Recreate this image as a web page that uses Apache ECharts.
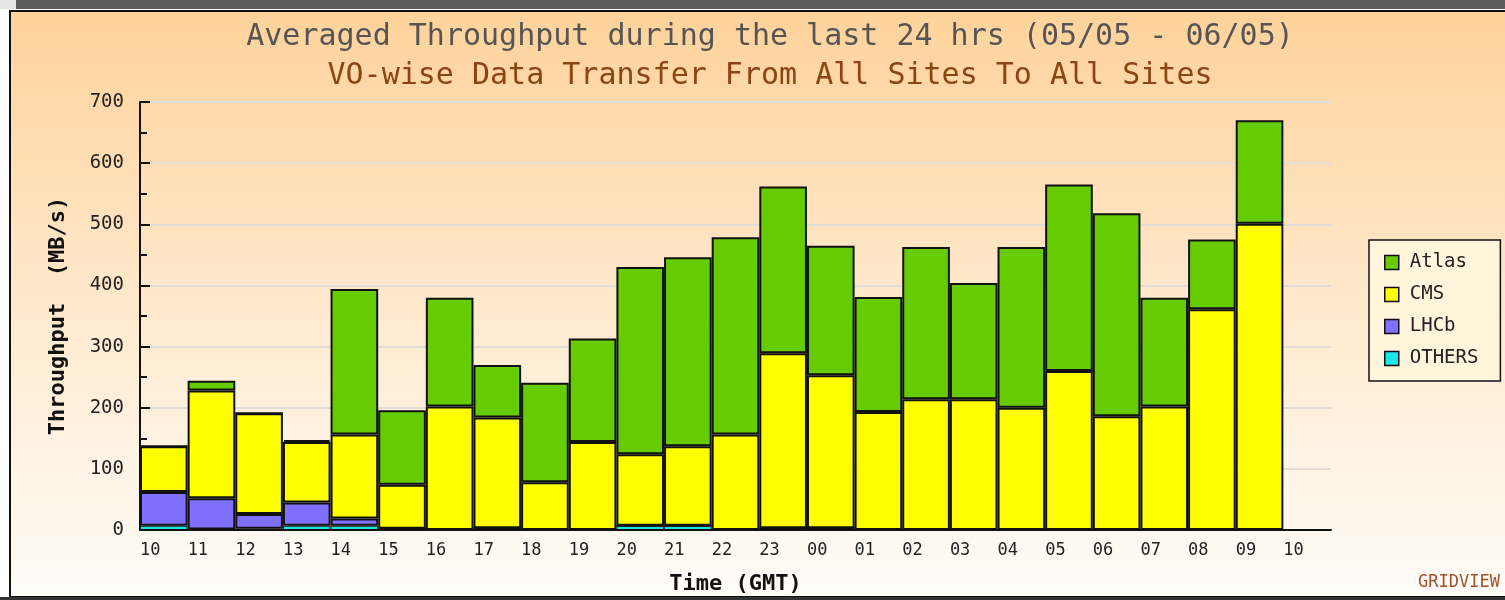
<!DOCTYPE html>
<html>
<head>
<meta charset="utf-8">
<script src="https://cdn.jsdelivr.net/npm/echarts@6/dist/echarts.min.js"></script>
<style>
html,body{margin:0;padding:0;background:#fff;}
#chart{width:1505px;height:600px;}
</style>
</head>
<body>
<div id="chart"></div>
<script>
// Hour tick labels (25 boundaries) and the 24 hourly bins
const hourLabels = ['10','11','12','13','14','15','16','17','18','19','20','21','22','23','00','01','02','03','04','05','06','07','08','09','10'];

// Throughput (MB/s) per VO, one value per hourly bin
const others = [7, 1, 2, 7, 7, 2, 0, 3, 0, 0, 7, 7, 0, 3, 3, 0, 0, 0, 0, 0, 0, 0, 0, 0];
const lhcb   = [55, 51, 24, 38, 12, 0, 0, 0, 0, 0, 0, 0, 0, 0, 0, 0, 0, 0, 0, 0, 0, 0, 0, 0];
const cms    = [75, 176, 165, 99, 137, 72, 202, 181, 78, 144, 117, 130, 156, 286, 250, 193, 214, 214, 200, 260, 186, 202, 361, 501];
const atlas  = [0, 16, 0, 3, 238, 122, 178, 86, 163, 169, 306, 309, 323, 273, 212, 188, 249, 190, 263, 305, 332, 178, 114, 169];

const yTicks = [0, 100, 200, 300, 400, 500, 600, 700];

const MONO = '"DejaVu Sans Mono", "Liberation Mono", monospace';

const chart = echarts.init(document.getElementById('chart'), null, {renderer: 'canvas'});

const barStyle = (color, w) => ({color: color, borderColor: '#111', borderWidth: w});

const option = {
  animation: false,
  graphic: [
    {type: 'rect', z: -10, silent: true, shape: {x: 16, y: 0, width: 1489, height: 9}, style: {fill: '#5c5c5c'}},
    {type: 'rect', z: -10, silent: true, shape: {x: 0, y: 0, width: 16, height: 9}, style: {fill: '#e4e4e4'}},
    {type: 'rect', z: -9, silent: true, shape: {x: 10, y: 11, width: 1500, height: 586},
      style: {
        fill: new echarts.graphic.LinearGradient(0, 0, 0, 1, [
          {offset: 0, color: '#FFD29A'},
          {offset: 0.55, color: '#FFEBD2'},
          {offset: 1, color: '#FFFCF8'}
        ]),
        stroke: '#111', lineWidth: 2
      }},
    {type: 'rect', z: -8, silent: true, shape: {x: 0, y: 597, width: 1505, height: 3}, style: {fill: '#333'}},
    {type: 'text', z: 10, silent: true, x: 1500, y: 583,
      style: {text: 'GRIDVIEW', fill: '#A0522D', font: '17px ' + MONO, textAlign: 'right', textVerticalAlign: 'middle'}}
  ],
  title: [
    {text: 'Averaged Throughput during the last 24 hrs (05/05 - 06/05)', left: 765, top: 17, textAlign: 'center',
      textStyle: {fontFamily: MONO, fontSize: 30, fontWeight: 'normal', color: '#555'}},
    {text: 'VO-wise Data Transfer From All Sites To All Sites', left: 765, top: 56, textAlign: 'center',
      textStyle: {fontFamily: MONO, fontSize: 30, fontWeight: 'normal', color: '#8B4513'}}
  ],
  legend: {
    orient: 'vertical', left: 1369, top: 240,
    data: ['Atlas', 'CMS', 'LHCb', 'OTHERS'],
    backgroundColor: '#FFF5DC', borderColor: '#111', borderWidth: 1.5, borderRadius: 0,
    padding: [13, 22, 13, 15], itemGap: 13,
    itemWidth: 14, itemHeight: 14, icon: 'rect',
    itemStyle: {borderColor: '#111', borderWidth: 1.5},
    textStyle: {fontFamily: MONO, fontSize: 19, color: '#222', padding: [0, 0, 0, 6]}
  },
  grid: {left: 140, right: 174, top: 102, bottom: 70, containLabel: false},
  xAxis: [
    {type: 'category', data: hourLabels, boundaryGap: true,
      axisLine: {show: true, lineStyle: {color: '#111', width: 2}},
      axisTick: {show: false}, axisLabel: {show: false}, splitLine: {show: false}},
    {type: 'value', min: 0, max: 25, interval: 1, position: 'bottom',
      name: 'Time (GMT)', nameLocation: 'middle', nameGap: 43,
      nameTextStyle: {fontFamily: MONO, fontSize: 22, fontWeight: 'bold', color: '#111'},
      axisLine: {show: false}, axisTick: {show: false}, splitLine: {show: false},
      axisLabel: {show: true, align: 'left', margin: 12, fontFamily: MONO, fontSize: 17, color: '#222',
        formatter: (v) => (hourLabels[v] !== undefined ? hourLabels[v] : '')}}
  ],
  yAxis: {
    type: 'value', min: 0, max: 700, interval: 100,
    name: 'Throughput  (MB/s)', nameLocation: 'middle', nameGap: 71, nameRotate: 90,
    nameTextStyle: {fontFamily: MONO, fontSize: 22, fontWeight: 'bold', color: '#111'},
    axisLine: {show: true, lineStyle: {color: '#111', width: 2}},
    axisTick: {show: true, inside: true, length: 10, lineStyle: {color: '#111', width: 2}},
    minorTick: {show: true, splitNumber: 2, length: 7, lineStyle: {color: '#111', width: 2}},
    axisLabel: {margin: 16, fontFamily: MONO, fontSize: 19, color: '#222',
      formatter: (v) => (yTicks.indexOf(v) >= 0 ? String(v) : '')},
    splitLine: {show: true, lineStyle: {color: '#e2dcd6', width: 2}}
  },
  series: [
    {name: 'OTHERS', type: 'bar', stack: 'vo', xAxisIndex: 0, data: others, barWidth: '100%', itemStyle: barStyle('#19E6E6', 1)},
    {name: 'LHCb', type: 'bar', stack: 'vo', xAxisIndex: 0, data: lhcb, barWidth: '100%', itemStyle: barStyle('#8070FF', 2)},
    {name: 'CMS', type: 'bar', stack: 'vo', xAxisIndex: 0, data: cms, barWidth: '100%', itemStyle: barStyle('#FFFF00', 2)},
    {name: 'Atlas', type: 'bar', stack: 'vo', xAxisIndex: 0, data: atlas, barWidth: '100%', itemStyle: barStyle('#66CC00', 2)}
  ]
};
chart.setOption(option);
</script>
</body>
</html>
